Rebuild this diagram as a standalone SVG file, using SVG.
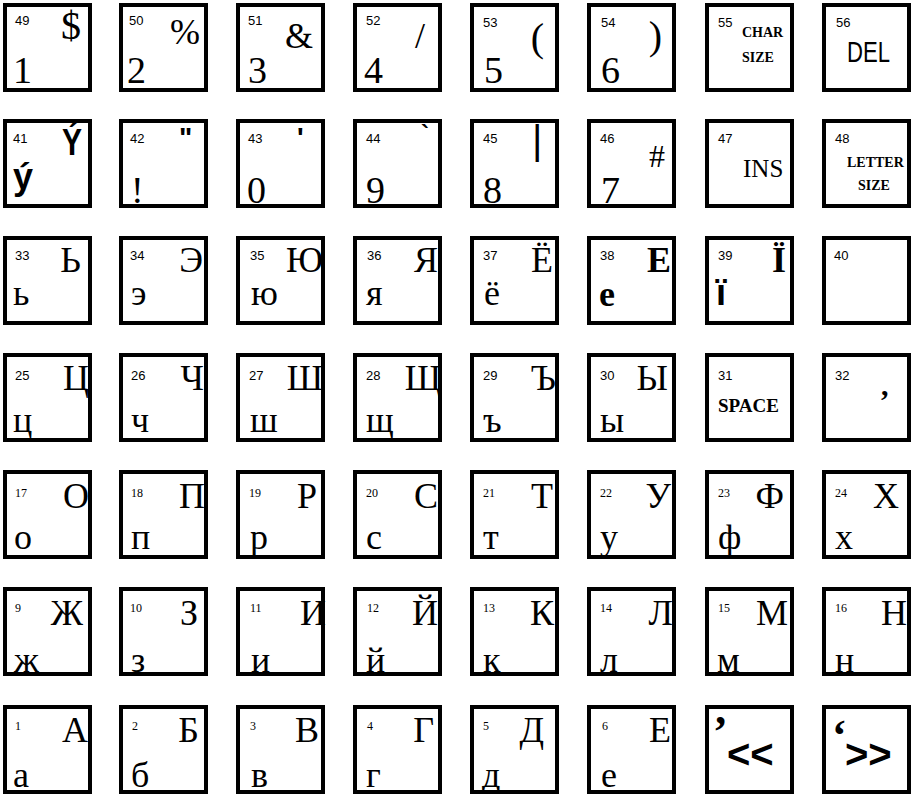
<svg xmlns="http://www.w3.org/2000/svg" width="914" height="796" viewBox="0 0 914 796">
<style>
.k{fill:#fff;stroke:#000;stroke-width:4}
.n{font-family:"Liberation Sans",Arial,sans-serif;font-size:13px}
.ns{font-family:"Liberation Serif","Times New Roman",serif;font-size:12px}
.c{font-family:"Liberation Serif","Times New Roman",serif;font-size:36px;text-anchor:end}
.l{font-family:"Liberation Serif","Times New Roman",serif;font-size:36px}
.d{font-family:"Liberation Serif","Times New Roman",serif;font-size:38px}
.sy{font-family:"Liberation Serif","Times New Roman",serif;text-anchor:end}
.bs{font-family:"Liberation Sans",Arial,sans-serif;font-weight:bold}
.bf{font-family:"Liberation Serif","Times New Roman",serif;font-weight:bold}
.sm{font-family:"Liberation Serif","Times New Roman",serif;font-weight:bold;font-size:14px}
</style>
<rect width="914" height="796" fill="#fff"/>

<g id="key-49"><rect class="k" x="5" y="5" width="85" height="85"/><text class="n" x="15" y="25">49</text><text class="sy" x="81" y="39" font-size="40">$</text><text class="d" x="13" y="83">1</text></g>
<g id="key-50"><rect class="k" x="121" y="5" width="85" height="85"/><text class="n" x="129" y="25">50</text><text class="sy" x="200" y="44" font-size="36">%</text><text class="d" x="127" y="83">2</text></g>
<g id="key-51"><rect class="k" x="238" y="5" width="85" height="85"/><text class="n" x="248" y="25">51</text><text class="sy" x="313" y="48" font-size="36">&amp;</text><text class="d" x="248" y="83">3</text></g>
<g id="key-52"><rect class="k" x="355" y="5" width="85" height="85"/><text class="n" x="366" y="25">52</text><text class="sy" x="425" y="48" font-size="36">/</text><text class="d" x="364" y="83">4</text></g>
<g id="key-53"><rect class="k" x="472" y="5" width="85" height="85"/><text class="n" x="483" y="27">53</text><text class="sy" x="544" y="51" font-size="40">(</text><text class="d" x="484" y="83">5</text></g>
<g id="key-54"><rect class="k" x="589" y="5" width="85" height="85"/><text class="n" x="601" y="27">54</text><text class="sy" x="662" y="49" font-size="40">)</text><text class="d" x="601" y="83">6</text></g>
<g id="key-55"><rect class="k" x="707" y="5" width="85" height="85"/><text class="n" x="718" y="27">55</text><text class="sm" x="742" y="37">CHAR</text><text class="sm" x="742" y="62">SIZE</text></g>
<g id="key-56"><rect class="k" x="824" y="5" width="85" height="85"/><text class="n" x="836" y="27">56</text><text font-family="Liberation Sans, Arial, sans-serif" font-size="30" x="847" y="62" textLength="43" lengthAdjust="spacingAndGlyphs">DEL</text></g>

<g id="key-41"><rect class="k" x="5" y="121" width="85" height="85"/><text class="n" x="13" y="143">41</text><text class="bs" x="62" y="155" font-size="37" textLength="20" lengthAdjust="spacingAndGlyphs">Ý</text><text class="bs" x="13" y="189" font-size="37" textLength="20" lengthAdjust="spacingAndGlyphs">ý</text></g>
<g id="key-42"><rect class="k" x="121" y="121" width="85" height="85"/><text class="n" x="130" y="143">42</text><text class="bs" x="179" y="147" font-size="28">"</text><text class="d" x="131" y="203">!</text></g>
<g id="key-43"><rect class="k" x="238" y="121" width="85" height="85"/><text class="n" x="248" y="143">43</text><text class="bs" x="297" y="147" font-size="28">'</text><text class="d" x="247" y="203">0</text></g>
<g id="key-44"><rect class="k" x="355" y="121" width="85" height="85"/><text class="n" x="366" y="143">44</text><text class="bs" x="421" y="142" font-size="24">`</text><text class="d" x="366" y="203">9</text></g>
<g id="key-45"><rect class="k" x="472" y="121" width="85" height="85"/><text class="n" x="483" y="143">45</text><text font-family="Liberation Sans, Arial, sans-serif" font-size="40" x="532" y="154">|</text><text class="d" x="483" y="203">8</text></g>
<g id="key-46"><rect class="k" x="589" y="121" width="85" height="85"/><text class="n" x="600" y="143">46</text><text class="sy" x="665" y="167" font-size="32">#</text><text class="d" x="601" y="203">7</text></g>
<g id="key-47"><rect class="k" x="707" y="121" width="85" height="85"/><text class="n" x="718" y="143">47</text><text font-family="Liberation Serif, Times New Roman, serif" font-size="25" x="743" y="177">INS</text></g>
<g id="key-48"><rect class="k" x="824" y="121" width="85" height="85"/><text class="n" x="835" y="143">48</text><text class="sm" x="847" y="167">LETTER</text><text class="sm" x="858" y="190">SIZE</text></g>

<g id="key-33"><rect class="k" x="5" y="238" width="85" height="85"/><text class="n" x="15" y="260">33</text><text class="c" x="81" y="272">Ь</text><text class="l" x="13" y="305">ь</text></g>
<g id="key-34"><rect class="k" x="121" y="238" width="85" height="85"/><text class="n" x="130" y="260">34</text><text class="c" x="203" y="272">Э</text><text class="l" x="131" y="305">э</text></g>
<g id="key-35"><rect class="k" x="238" y="238" width="85" height="85"/><text class="n" x="250" y="260">35</text><text class="c" x="323" y="272">Ю</text><text class="l" x="251" y="305">ю</text></g>
<g id="key-36"><rect class="k" x="355" y="238" width="85" height="85"/><text class="n" x="367" y="260">36</text><text class="c" x="438" y="272">Я</text><text class="l" x="366" y="305">я</text></g>
<g id="key-37"><rect class="k" x="472" y="238" width="85" height="85"/><text class="n" x="483" y="260">37</text><text class="c" x="553" y="272">Ё</text><text class="l" x="484" y="305">ё</text></g>
<g id="key-38"><rect class="k" x="589" y="238" width="85" height="85"/><text class="n" x="600" y="260">38</text><text class="c" x="671" y="272" font-weight="bold">Е</text><text class="l" x="599" y="306" font-weight="bold">е</text></g>
<g id="key-39"><rect class="k" x="707" y="238" width="85" height="85"/><text class="n" x="718" y="260">39</text><text class="c" x="786" y="272" font-weight="bold">Ї</text><text class="bs" x="716" y="305" font-size="36">ї</text></g>
<g id="key-40"><rect class="k" x="824" y="238" width="85" height="85"/><text class="n" x="834" y="260">40</text></g>

<g id="key-25"><rect class="k" x="5" y="355" width="85" height="85"/><text class="n" x="15" y="380">25</text><text class="c" x="89" y="390">Ц</text><text class="l" x="13" y="432">ц</text></g>
<g id="key-26"><rect class="k" x="121" y="355" width="85" height="85"/><text class="n" x="131" y="380">26</text><text class="c" x="204" y="390">Ч</text><text class="l" x="131" y="432">ч</text></g>
<g id="key-27"><rect class="k" x="238" y="355" width="85" height="85"/><text class="n" x="249" y="380">27</text><text class="c" x="323" y="390">Ш</text><text class="l" x="250" y="432">ш</text></g>
<g id="key-28"><rect class="k" x="355" y="355" width="85" height="85"/><text class="n" x="366" y="380">28</text><text class="c" x="441" y="390">Щ</text><text class="l" x="366" y="432">щ</text></g>
<g id="key-29"><rect class="k" x="472" y="355" width="85" height="85"/><text class="n" x="483" y="380">29</text><text class="c" x="556" y="390">Ъ</text><text class="l" x="483" y="432">ъ</text></g>
<g id="key-30"><rect class="k" x="589" y="355" width="85" height="85"/><text class="n" x="600" y="380">30</text><text class="c" x="668" y="390">Ы</text><text class="l" x="600" y="432">ы</text></g>
<g id="key-31"><rect class="k" x="707" y="355" width="85" height="85"/><text class="n" x="718" y="380">31</text><text class="bf" x="718" y="412" font-size="19">SPACE</text></g>
<g id="key-32"><rect class="k" x="824" y="355" width="85" height="85"/><text class="n" x="835" y="380">32</text><text class="bf" x="881" y="395" font-size="30">,</text></g>

<g id="key-17"><rect class="k" x="5" y="472" width="85" height="85"/><text class="ns" x="15" y="497">17</text><text class="c" x="89" y="508">О</text><text class="l" x="14" y="549">о</text></g>
<g id="key-18"><rect class="k" x="121" y="472" width="85" height="85"/><text class="ns" x="131" y="497">18</text><text class="c" x="205" y="508">П</text><text class="l" x="131" y="549">п</text></g>
<g id="key-19"><rect class="k" x="238" y="472" width="85" height="85"/><text class="ns" x="249" y="497">19</text><text class="c" x="317" y="508">Р</text><text class="l" x="250" y="549">р</text></g>
<g id="key-20"><rect class="k" x="355" y="472" width="85" height="85"/><text class="ns" x="366" y="497">20</text><text class="c" x="438" y="508">С</text><text class="l" x="366" y="549">с</text></g>
<g id="key-21"><rect class="k" x="472" y="472" width="85" height="85"/><text class="ns" x="483" y="497">21</text><text class="c" x="553" y="508">Т</text><text class="l" x="483" y="549">т</text></g>
<g id="key-22"><rect class="k" x="589" y="472" width="85" height="85"/><text class="ns" x="600" y="497">22</text><text class="c" x="671" y="508">У</text><text class="l" x="600" y="549">у</text></g>
<g id="key-23"><rect class="k" x="707" y="472" width="85" height="85"/><text class="ns" x="718" y="497">23</text><text class="c" x="784" y="508">Ф</text><text class="l" x="718" y="549">ф</text></g>
<g id="key-24"><rect class="k" x="824" y="472" width="85" height="85"/><text class="ns" x="835" y="497">24</text><text class="c" x="899" y="508">Х</text><text class="l" x="835" y="549">х</text></g>

<g id="key-9"><rect class="k" x="5" y="589" width="85" height="85"/><text class="ns" x="15" y="612">9</text><text class="c" x="83" y="625">Ж</text><text class="l" x="14" y="672">ж</text></g>
<g id="key-10"><rect class="k" x="121" y="589" width="85" height="85"/><text class="ns" x="130" y="612">10</text><text class="c" x="198" y="625">З</text><text class="l" x="131" y="672">з</text></g>
<g id="key-11"><rect class="k" x="238" y="589" width="85" height="85"/><text class="ns" x="250" y="612">11</text><text class="c" x="326" y="625">И</text><text class="l" x="251" y="672">и</text></g>
<g id="key-12"><rect class="k" x="355" y="589" width="85" height="85"/><text class="ns" x="367" y="612">12</text><text class="c" x="438" y="625">Й</text><text class="l" x="366" y="672">й</text></g>
<g id="key-13"><rect class="k" x="472" y="589" width="85" height="85"/><text class="ns" x="483" y="612">13</text><text class="c" x="554" y="625">К</text><text class="l" x="483" y="672">к</text></g>
<g id="key-14"><rect class="k" x="589" y="589" width="85" height="85"/><text class="ns" x="600" y="612">14</text><text class="c" x="673" y="625">Л</text><text class="l" x="600" y="672">л</text></g>
<g id="key-15"><rect class="k" x="707" y="589" width="85" height="85"/><text class="ns" x="718" y="612">15</text><text class="c" x="788" y="625">М</text><text class="l" x="717" y="672">м</text></g>
<g id="key-16"><rect class="k" x="824" y="589" width="85" height="85"/><text class="ns" x="835" y="612">16</text><text class="c" x="907" y="625">Н</text><text class="l" x="835" y="672">н</text></g>

<g id="key-1"><rect class="k" x="5" y="707" width="85" height="85"/><text class="ns" x="15" y="730">1</text><text class="c" x="88" y="742">А</text><text class="l" x="13" y="787">а</text></g>
<g id="key-2"><rect class="k" x="121" y="707" width="85" height="85"/><text class="ns" x="132" y="730">2</text><text class="c" x="199" y="742">Б</text><text class="l" x="131" y="787">б</text></g>
<g id="key-3"><rect class="k" x="238" y="707" width="85" height="85"/><text class="ns" x="250" y="730">3</text><text class="c" x="319" y="742">В</text><text class="l" x="251" y="787">в</text></g>
<g id="key-4"><rect class="k" x="355" y="707" width="85" height="85"/><text class="ns" x="367" y="730">4</text><text class="c" x="434" y="742">Г</text><text class="l" x="366" y="787">г</text></g>
<g id="key-5"><rect class="k" x="472" y="707" width="85" height="85"/><text class="ns" x="483" y="730">5</text><text class="c" x="544" y="742">Д</text><text class="l" x="482" y="787">д</text></g>
<g id="key-6"><rect class="k" x="589" y="707" width="85" height="85"/><text class="ns" x="602" y="730">6</text><text class="c" x="671" y="742">Е</text><text class="l" x="601" y="787">е</text></g>
<g id="key-7"><rect class="k" x="707" y="707" width="85" height="85"/><text class="bf" x="713" y="746" font-size="44">’</text><text class="bs" x="727" y="768" font-size="40">&lt;&lt;</text></g>
<g id="key-8"><rect class="k" x="824" y="707" width="85" height="85"/><text class="bf" x="832" y="750" font-size="44">‘</text><text class="bs" x="845" y="768" font-size="40">&gt;&gt;</text></g>
</svg>
